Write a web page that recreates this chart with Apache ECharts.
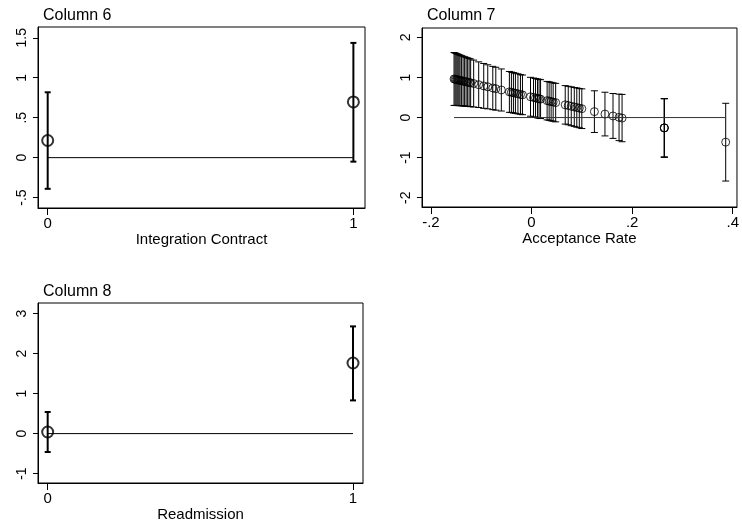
<!DOCTYPE html>
<html>
<head>
<meta charset="utf-8">
<script src="https://cdn.jsdelivr.net/npm/echarts@6/dist/echarts.min.js"></script>
<style>
  html, body { margin: 0; padding: 0; background: #fff; }
  #chart { width: 742px; height: 527px; }
</style>
</head>
<body>
<div id="chart"></div>
<script>
// Column 6 - Integration Contract
var contractX = [0, 1];
var contractB = [0.215, 0.697];
var contractLo = [-0.39, -0.05];
var contractHi = [0.818, 1.436];

// Column 7 - Acceptance Rate
var acceptX = [-0.154, -0.152, -0.150, -0.148, -0.146, -0.144, -0.142, -0.139, -0.136, -0.133,
    -0.130, -0.127, -0.124, -0.121, -0.115, -0.105, -0.095, -0.087, -0.077, -0.071, -0.060,
    -0.044, -0.040, -0.036, -0.032, -0.027, -0.022, -0.018,
    -0.002, 0.004, 0.008, 0.012, 0.015, 0.018,
    0.031, 0.035, 0.039, 0.043, 0.048,
    0.067, 0.073, 0.079, 0.085, 0.090, 0.095, 0.100,
    0.125, 0.146, 0.162, 0.174, 0.180, 0.264, 0.264, 0.264, 0.386];
var acceptB = [0.963, 0.957, 0.951, 0.945, 0.939, 0.933, 0.928, 0.919, 0.910, 0.901,
    0.893, 0.884, 0.875, 0.866, 0.849, 0.820, 0.790, 0.767, 0.738, 0.720, 0.688,
    0.641, 0.630, 0.618, 0.606, 0.592, 0.577, 0.566,
    0.519, 0.501, 0.490, 0.478, 0.469, 0.460,
    0.422, 0.411, 0.399, 0.387, 0.373,
    0.317, 0.300, 0.282, 0.265, 0.250, 0.236, 0.221,
    0.148, 0.087, 0.040, 0.005, -0.013, -0.258, -0.258, -0.258, -0.614];
var acceptLo = [0.303, 0.302, 0.301, 0.300, 0.299, 0.298, 0.298, 0.294, 0.290, 0.286,
    0.283, 0.279, 0.275, 0.271, 0.264, 0.250, 0.230, 0.217, 0.198, 0.185, 0.163,
    0.131, 0.125, 0.113, 0.106, 0.092, 0.082, 0.071,
    0.034, 0.016, 0.005, -0.007, -0.016, -0.025,
    -0.058, -0.069, -0.081, -0.093, -0.107,
    -0.163, -0.180, -0.203, -0.220, -0.240, -0.254, -0.274,
    -0.372, -0.458, -0.520, -0.575, -0.603, -0.988, -0.988, -0.988, -1.584];
var acceptHi = [1.623, 1.612, 1.601, 1.590, 1.579, 1.568, 1.558, 1.544, 1.530, 1.516,
    1.503, 1.489, 1.475, 1.461, 1.434, 1.390, 1.350, 1.317, 1.278, 1.255, 1.213,
    1.151, 1.135, 1.123, 1.106, 1.092, 1.072, 1.061,
    1.004, 0.986, 0.975, 0.963, 0.954, 0.945,
    0.902, 0.891, 0.879, 0.867, 0.853,
    0.797, 0.780, 0.767, 0.750, 0.740, 0.726, 0.716,
    0.668, 0.632, 0.600, 0.585, 0.577, 0.472, 0.472, 0.472, 0.356];

// Column 8 - Readmission
var readmitX = [0, 1];
var readmitB = [0.04, 1.765];
var readmitLo = [-0.46, 0.83];
var readmitHi = [0.54, 2.68];

// tick labels
var contractXTicks = [0, 1];
var contractYTicks = [-0.5, 0, 0.5, 1, 1.5];
var acceptXTicks = [-0.2, 0, 0.2, 0.4];
var acceptYTicks = [-2, -1, 0, 1, 2];
var readmitXTicks = [0, 1];
var readmitYTicks = [-1, 0, 1, 2, 3];

var FONT = 'Liberation Sans, Arial, sans-serif';

// stata style: drop the leading zero
function fmt(v) {
    return String(v).replace(/^(-?)0\./, '$1.');
}

function zip(a, b) {
    var out = [];
    for (var i = 0; i < a.length; i++) out.push([a[i], b[i]]);
    return out;
}

function zip3(a, b, c) {
    var out = [];
    for (var i = 0; i < a.length; i++) out.push([a[i], b[i], c[i]]);
    return out;
}

function xAxisOf(idx, min, max, ticks, name) {
    return {
        type: 'value', gridIndex: idx, min: min, max: max,
        name: name, nameLocation: 'middle', nameGap: 24,
        nameTextStyle: { color: '#000', fontSize: 15, fontFamily: FONT },
        axisLine: { onZero: false, lineStyle: { color: '#000', width: 1 } },
        axisTick: { customValues: ticks, length: 7, lineStyle: { color: '#000' } },
        axisLabel: { customValues: ticks, formatter: fmt, color: '#000', fontSize: 15, fontFamily: FONT, margin: 8 },
        splitLine: { show: false }
    };
}

function yAxisOf(idx, min, max, ticks) {
    return {
        type: 'value', gridIndex: idx, min: min, max: max,
        axisLine: { onZero: false, lineStyle: { color: '#000', width: 1 } },
        axisTick: { customValues: ticks, length: 5, lineStyle: { color: '#000' } },
        axisLabel: { customValues: ticks, formatter: fmt, rotate: 90, color: '#000', fontSize: 14, fontFamily: FONT, margin: 9 },
        splitLine: { show: false }
    };
}

function errorBars(idx, x, lo, hi, capW, lw, color) {
    return {
        type: 'custom', xAxisIndex: idx, yAxisIndex: idx,
        data: zip3(x, lo, hi),
        encode: { x: 0, y: [1, 2] },
        silent: true,
        renderItem: function (params, api) {
            var xv = api.value(0);
            var top = api.coord([xv, api.value(2)]);
            var bot = api.coord([xv, api.value(1)]);
            var st = { stroke: color, lineWidth: lw };
            return {
                type: 'group',
                children: [
                    { type: 'line', shape: { x1: top[0], y1: top[1], x2: bot[0], y2: bot[1] }, style: st },
                    { type: 'line', shape: { x1: top[0] - capW, y1: top[1], x2: top[0] + capW, y2: top[1] }, style: st },
                    { type: 'line', shape: { x1: bot[0] - capW, y1: bot[1], x2: bot[0] + capW, y2: bot[1] }, style: st }
                ]
            };
        }
    };
}

function zeroLine(idx, x, color) {
    var lo = Math.min.apply(null, x), hi = Math.max.apply(null, x);
    return {
        type: 'line', xAxisIndex: idx, yAxisIndex: idx,
        data: [[lo, 0], [hi, 0]], symbol: 'none', silent: true,
        lineStyle: { color: color, width: 1 }
    };
}

function points(idx, x, y, size, bw) {
    return {
        type: 'scatter', xAxisIndex: idx, yAxisIndex: idx,
        data: zip(x, y), symbol: 'circle', symbolSize: size, silent: true,
        itemStyle: { color: 'rgba(0,0,0,0)', borderColor: '#000', borderWidth: bw }
    };
}

var chart = echarts.init(document.getElementById('chart'), null, { renderer: 'canvas' });
chart.setOption({
    animation: false,
    backgroundColor: '#fff',
    title: [
        { text: 'Column 6', left: 38, top: 3, textStyle: { fontSize: 16, fontWeight: 'normal', color: '#000', fontFamily: FONT } },
        { text: 'Column 7', left: 422, top: 3, textStyle: { fontSize: 16, fontWeight: 'normal', color: '#000', fontFamily: FONT } },
        { text: 'Column 8', left: 38, top: 279, textStyle: { fontSize: 16, fontWeight: 'normal', color: '#000', fontFamily: FONT } }
    ],
    grid: [
        { left: 38, top: 27, width: 327, height: 181, show: true, borderColor: '#000', borderWidth: 1, backgroundColor: '#fff' },
        { left: 422, top: 28, width: 319, height: 179, show: true, borderColor: '#000', borderWidth: 1, backgroundColor: '#fff' },
        { left: 38, top: 303, width: 325, height: 180, show: true, borderColor: '#000', borderWidth: 1, backgroundColor: '#fff' }
    ],
    xAxis: [
        xAxisOf(0, -0.0317, 1.038, contractXTicks, 'Integration Contract'),
        xAxisOf(1, -0.2177, 0.4084, acceptXTicks, 'Acceptance Rate'),
        xAxisOf(2, -0.0317, 1.0327, readmitXTicks, 'Readmission')
    ],
    yAxis: [
        yAxisOf(0, -0.63, 1.635, contractYTicks),
        yAxisOf(1, -2.232, 2.235, acceptYTicks),
        yAxisOf(2, -1.235, 3.265, readmitYTicks)
    ],
    series: [
        zeroLine(0, contractX, '#000'),
        errorBars(0, contractX, contractLo, contractHi, 3, 2, '#000'),
        points(0, contractX, contractB, 11, 2),

        zeroLine(1, acceptX, '#333'),
        errorBars(1, acceptX, acceptLo, acceptHi, 3.5, 1, '#000'),
        points(1, acceptX, acceptB, 8, 1),

        zeroLine(2, readmitX, '#000'),
        errorBars(2, readmitX, readmitLo, readmitHi, 3, 2, '#000'),
        points(2, readmitX, readmitB, 11, 2)
    ]
});
</script>
</body>
</html>
